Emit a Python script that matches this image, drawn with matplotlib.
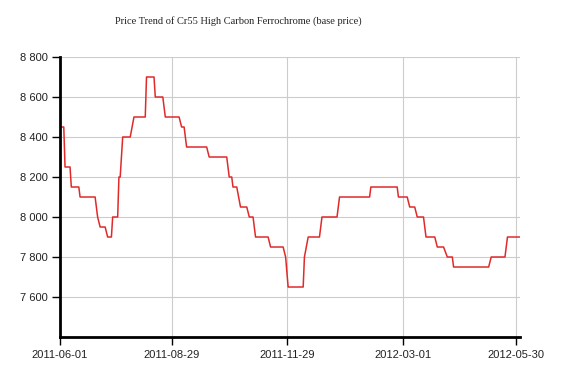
import matplotlib
matplotlib.use('Agg')
import matplotlib.pyplot as plt
import matplotlib.dates as mdates
import numpy as np

# price change points (date, price)
dates = [
    '2011-06-01', '2011-06-04', '2011-06-05', '2011-06-09', '2011-06-10',
    '2011-06-16', '2011-06-17', '2011-06-29', '2011-07-01', '2011-07-03',
    '2011-07-07', '2011-07-09', '2011-07-12', '2011-07-13', '2011-07-17',
    '2011-07-18', '2011-07-19', '2011-07-21', '2011-07-27', '2011-07-30',
    '2011-08-08', '2011-08-09', '2011-08-15', '2011-08-16', '2011-08-22',
    '2011-08-24', '2011-09-04', '2011-09-06', '2011-09-08', '2011-09-10',
    '2011-09-26', '2011-09-28', '2011-10-12', '2011-10-14', '2011-10-16',
    '2011-10-17', '2011-10-20', '2011-10-23', '2011-10-28', '2011-10-30',
    '2011-11-02', '2011-11-04', '2011-11-14', '2011-11-16', '2011-11-26',
    '2011-11-28', '2011-11-30', '2011-12-12', '2011-12-13', '2011-12-16',
    '2011-12-25', '2011-12-27', '2012-01-08', '2012-01-10', '2012-02-03',
    '2012-02-04', '2012-02-25', '2012-02-26', '2012-03-04', '2012-03-06',
    '2012-03-10', '2012-03-12', '2012-03-17', '2012-03-19', '2012-03-26',
    '2012-03-28', '2012-04-02', '2012-04-05', '2012-04-09', '2012-04-10',
    '2012-05-08', '2012-05-10', '2012-05-21', '2012-05-23', '2012-06-02',
]
prices = [
    8450, 8450, 8250, 8250, 8150,
    8150, 8100, 8100, 8000, 7950,
    7950, 7900, 7900, 8000, 8000,
    8200, 8200, 8400, 8400, 8500,
    8500, 8700, 8700, 8600, 8600,
    8500, 8500, 8450, 8450, 8350,
    8350, 8300, 8300, 8200, 8200,
    8150, 8150, 8050, 8050, 8000,
    8000, 7900, 7900, 7850, 7850,
    7800, 7650, 7650, 7800, 7900,
    7900, 8000, 8000, 8100, 8100,
    8150, 8150, 8100, 8100, 8050,
    8050, 8000, 8000, 7900, 7900,
    7850, 7850, 7800, 7800, 7750,
    7750, 7800, 7800, 7900, 7900,
]

xtick_dates = ['2011-06-01', '2011-08-29', '2011-11-29', '2012-03-01', '2012-05-30']
ytick_values = [7600, 7800, 8000, 8200, 8400, 8600, 8800]
ytick_labels = ['7 600', '7 800', '8 000', '8 200', '8 400', '8 600', '8 800']

x = np.array(dates, dtype='datetime64[D]')
xt = np.array(xtick_dates, dtype='datetime64[D]')

fig = plt.figure(figsize=(5.7, 3.75), dpi=100)
ax = fig.add_axes([0.1053, 0.1013, 0.807, 0.7467])

ax.plot(x, prices, color='#e02a2a', linewidth=1.1)

ax.set_xlim(x[0], x[-1])
ax.set_ylim(7400, 8800)

ax.set_xticks(xt)
ax.set_xticklabels(xtick_dates)
ax.set_yticks(ytick_values)
ax.set_yticklabels(ytick_labels)

for lab in ax.get_xticklabels() + ax.get_yticklabels():
    lab.set_fontfamily('Liberation Sans')
    lab.set_fontsize(8)
    lab.set_color('#222222')

ax.tick_params(axis='both', length=6, width=1, color='black', pad=3)
ax.grid(True, color='#cccccc', linewidth=0.8)
ax.set_axisbelow(True)

for side in ['top', 'right']:
    ax.spines[side].set_visible(False)
for side in ['left', 'bottom']:
    ax.spines[side].set_linewidth(2)
    ax.spines[side].set_color('black')

fig.text(0.418, 0.944, 'Price Trend of Cr55 High Carbon Ferrochrome (base price)',
         ha='center', va='center', fontsize=7.5, family='Liberation Serif',
         color='#222222')

plt.savefig('out.png', dpi=100)
